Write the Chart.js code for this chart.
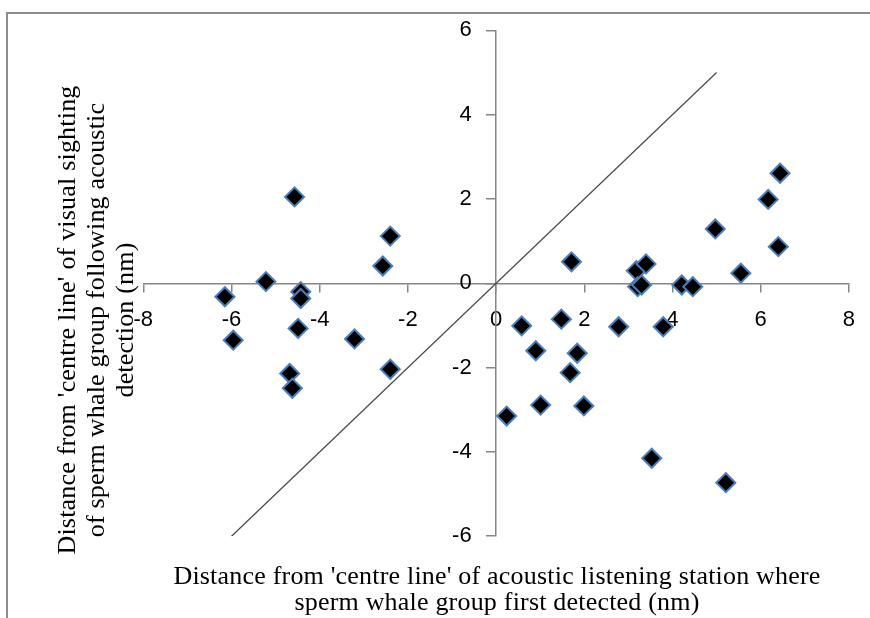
<!DOCTYPE html>
<html lang="en">
<head>
  <meta charset="UTF-8">
  <title>Sperm whale sightings vs acoustic detection</title>
  <script src="https://cdn.jsdelivr.net/npm/chart.js"></script>
  <style>
    html, body {
      margin: 0;
      padding: 0;
      background: #fff;
      overflow: hidden;
    }
    .frame {
      position: absolute;
      left: 6px;
      top: 12px;
      width: 900px;
      height: 700px;
      border: 2px solid #8c8c8c;
      box-sizing: border-box;
    }
    #chart {
      position: absolute;
      left: 0;
      top: 0;
    }
  </style>
</head>
<body>
  <div class="frame"></div>
  <canvas id="chart" width="870" height="618"></canvas>

  <script>
    // acoustic detection distance (x) vs visual sighting distance (y), nm
    const detectX = [
      -4.57, -2.40, -2.57, -5.22, -6.15, -4.43, -4.43, -4.49, -5.96, -3.21, -4.68, -4.62, -2.40,
      6.44, 6.17, 4.97, 6.40, 5.55, 1.71, 3.18, 3.40, 3.21, 3.30, 4.21, 4.46,
      0.58, 1.48, 2.78, 3.79, 0.90, 1.84, 1.68, 1.01, 1.99, 0.24, 3.53, 5.21
    ];
    const sightY = [
      2.05, 1.12, 0.41, 0.04, -0.32, -0.20, -0.36, -1.07, -1.35, -1.32, -2.14, -2.49, -2.04,
      2.61, 1.99, 1.29, 0.87, 0.24, 0.51, 0.30, 0.46, -0.08, -0.04, -0.04, -0.08,
      -1.01, -0.85, -1.03, -1.03, -1.60, -1.66, -2.12, -2.89, -2.91, -3.15, -4.15, -4.73
    ];
    // reference line drawn in the figure
    const lineX = [-6, 5];
    const lineY = [-6, 5];
    const xTicks = [-8, -6, -4, -2, 0, 2, 4, 6, 8];
    const yTicks = [-6, -4, -2, 0, 2, 4, 6];

    const xTitle = [
      "Distance from 'centre line' of acoustic listening station where",
      'sperm whale group first detected (nm)'
    ];
    const yTitle = [
      "Distance from 'centre line' of visual sighting",
      'of sperm whale group following acoustic',
      'detection (nm)'
    ];

    const axisTitles = {
      id: 'axisTitles',
      afterDraw(chart) {
        const ctx = chart.ctx;
        ctx.save();
        ctx.fillStyle = '#000';
        ctx.font = '26px "Liberation Serif"';
        ctx.letterSpacing = '0.2px';
        ctx.textAlign = 'center';
        ctx.textBaseline = 'middle';
        xTitle.forEach((line, i) => ctx.fillText(line, 497, 577 + i * 26));
        ctx.translate(97, 320);
        ctx.rotate(-Math.PI / 2);
        yTitle.forEach((line, i) => ctx.fillText(line, 0, (i - 1) * 29));
        ctx.restore();
      }
    };

    const axisColor = '#868686';
    const tickFont = { family: '"Liberation Sans", Arial, sans-serif', size: 22 };

    new Chart(document.getElementById('chart'), {
      type: 'scatter',
      data: {
        datasets: [
          {
            data: detectX.map((x, i) => ({ x: x, y: sightY[i] })),
            pointStyle: 'rectRot',
            pointRadius: 9.5,
            pointHoverRadius: 9.5,
            backgroundColor: '#000',
            borderColor: '#4a7ebb',
            borderWidth: 2
          },
          {
            data: lineX.map((x, i) => ({ x: x, y: lineY[i] })),
            showLine: true,
            borderColor: '#4a4a4a',
            borderWidth: 1.2,
            pointRadius: 0
          }
        ]
      },
      options: {
        responsive: false,
        animation: false,
        layout: { padding: { left: 143.3, top: 30.4, right: 18.2, bottom: 81.8 } },
        plugins: {
          legend: { display: false },
          tooltip: { enabled: false }
        },
        scales: {
          x: {
            type: 'linear',
            position: { y: 0 },
            min: -8,
            max: 8,
            afterBuildTicks: axis => { axis.ticks = xTicks.map(v => ({ value: v })); },
            grid: { drawOnChartArea: false, tickLength: 8, color: axisColor, lineWidth: 1.5 },
            border: { color: axisColor, width: 1.5 },
            ticks: { font: tickFont, color: '#000', padding: 15, maxRotation: 0 }
          },
          y: {
            type: 'linear',
            position: { x: 0 },
            min: -6,
            max: 6,
            afterBuildTicks: axis => { axis.ticks = yTicks.map(v => ({ value: v })); },
            grid: { drawOnChartArea: false, tickLength: 9, color: axisColor, lineWidth: 1.5 },
            border: { color: axisColor, width: 1.5 },
            // labels sit on the axis line when it is placed by value, so pad them with spaces
            ticks: { font: tickFont, color: '#000', callback: v => v + '    ' }
          }
        }
      },
      plugins: [axisTitles]
    });
  </script>
</body>
</html>
